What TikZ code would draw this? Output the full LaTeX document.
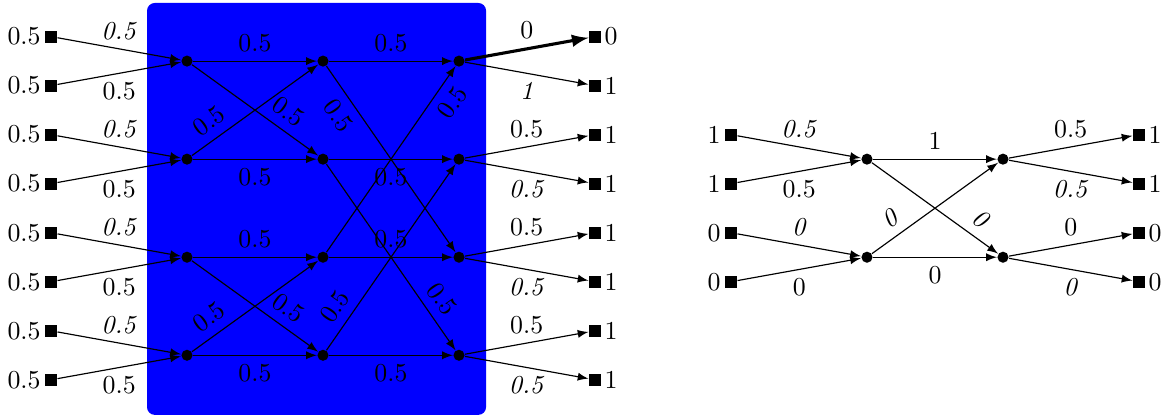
\documentclass[tikz,border=0pt]{standalone}
\usepackage{xcolor}
\usepackage{tikz}

\begin{document}
\begin{tikzpicture}[x=1.85cm,y=0.667cm,line width=0.45pt,
  term/.style={rectangle,fill,inner sep=0pt,minimum size=4.6pt},
  src/.style={term,label={[inner sep=1pt,label distance=0.3pt]left:#1}},
  dst/.style={term,label={[inner sep=1pt]right:#1}},
  junc/.style={circle,fill,inner sep=0pt,minimum size=4.3pt},
  wire/.style={-latex}]
\useasboundingbox (-0.375,0.746) rectangle (8.206,-7.817);
\fill[blue,rounded corners=3pt] (0.706,0.685) rectangle (3.199,-7.715);
  \node[src=0.5] (u1) at (0,0) {};
  \node[src=0.5] (u2) at (0,-1) {};
  \node[src=0.5] (u3) at (0,-2) {};
  \node[src=0.5] (u4) at (0,-3) {};
  \node[src=0.5] (u5) at (0,-4) {};
  \node[src=0.5] (u6) at (0,-5) {};
  \node[src=0.5] (u7) at (0,-6) {};
  \node[src=0.5] (u8) at (0,-7) {};
  \node[junc] (a1) at (1,-0.5) {};
  \node[junc] (a2) at (1,-2.5) {};
  \node[junc] (a3) at (1,-4.5) {};
  \node[junc] (a4) at (1,-6.5) {};
  \node[junc] (b1) at (2,-0.5) {};
  \node[junc] (b2) at (2,-2.5) {};
  \node[junc] (b3) at (2,-4.5) {};
  \node[junc] (b4) at (2,-6.5) {};
  \node[junc] (c1) at (3,-0.5) {};
  \node[junc] (c2) at (3,-2.5) {};
  \node[junc] (c3) at (3,-4.5) {};
  \node[junc] (c4) at (3,-6.5) {};
  \node[dst=0] (v1) at (4,0) {};
  \node[dst=1] (v2) at (4,-1) {};
  \node[dst=1] (v3) at (4,-2) {};
  \node[dst=1] (v4) at (4,-3) {};
  \node[dst=1] (v5) at (4,-4) {};
  \node[dst=1] (v6) at (4,-5) {};
  \node[dst=1] (v7) at (4,-6) {};
  \node[dst=1] (v8) at (4,-7) {};
  \draw[wire] (u1) -- node[above] {\textit{0.5}} (a1);
  \draw[wire] (u2) -- node[below] {0.5} (a1);
  \draw[wire] (u3) -- node[above] {\textit{0.5}} (a2);
  \draw[wire] (u4) -- node[below] {0.5} (a2);
  \draw[wire] (u5) -- node[above] {\textit{0.5}} (a3);
  \draw[wire] (u6) -- node[below] {0.5} (a3);
  \draw[wire] (u7) -- node[above] {\textit{0.5}} (a4);
  \draw[wire] (u8) -- node[below] {0.5} (a4);
  \draw[wire] (a1) -- node[above] {0.5} (b1);
  \draw[wire] (a1) -- node[above,sloped,pos=0.68] {0.5} (b2);
  \draw[wire] (a2) -- node[above,sloped,pos=0.22] {0.5} (b1);
  \draw[wire] (a2) -- node[below] {0.5} (b2);
  \draw[wire] (a3) -- node[above] {0.5} (b3);
  \draw[wire] (a3) -- node[above,sloped,pos=0.68] {0.5} (b4);
  \draw[wire] (a4) -- node[above,sloped,pos=0.22] {0.5} (b3);
  \draw[wire] (a4) -- node[below] {0.5} (b4);
  \draw[wire] (b1) -- node[above] {0.5} (c1);
  \draw[wire] (b1) -- node[below,sloped,pos=0.21] {0.5} (c3);
  \draw[wire] (b2) -- node[below] {0.5} (c2);
  \draw[wire] (b2) -- node[above,sloped,pos=0.78] {0.5} (c4);
  \draw[wire] (b3) -- node[below,sloped,pos=0.86] {0.5} (c1);
  \draw[wire] (b3) -- node[above] {0.5} (c3);
  \draw[wire] (b4) -- node[above,sloped,pos=0.18] {0.5} (c2);
  \draw[wire] (b4) -- node[below] {0.5} (c4);
  \draw[wire,very thick] (c1) -- node[above] {0} (v1);
  \draw[wire] (c1) -- node[below] {\textit{1}} (v2);
  \draw[wire] (c2) -- node[above] {0.5} (v3);
  \draw[wire] (c2) -- node[below] {\textit{0.5}} (v4);
  \draw[wire] (c3) -- node[above] {0.5} (v5);
  \draw[wire] (c3) -- node[below] {\textit{0.5}} (v6);
  \draw[wire] (c4) -- node[above] {0.5} (v7);
  \draw[wire] (c4) -- node[below] {\textit{0.5}} (v8);
  \node[src=1] (p1) at (5,-2) {};
  \node[src=1] (p2) at (5,-3) {};
  \node[src=0] (p3) at (5,-4) {};
  \node[src=0] (p4) at (5,-5) {};
  \node[junc] (q1) at (6,-2.5) {};
  \node[junc] (q2) at (6,-4.5) {};
  \node[junc] (r1) at (7,-2.5) {};
  \node[junc] (r2) at (7,-4.5) {};
  \node[dst=1] (s1) at (8,-2) {};
  \node[dst=1] (s2) at (8,-3) {};
  \node[dst=0] (s3) at (8,-4) {};
  \node[dst=0] (s4) at (8,-5) {};
  \draw[wire] (p1) -- node[above] {\textit{0.5}} (q1);
  \draw[wire] (p2) -- node[below] {0.5} (q1);
  \draw[wire] (p3) -- node[above] {\textit{0}} (q2);
  \draw[wire] (p4) -- node[below] {0} (q2);
  \draw[wire] (q1) -- node[above] {1} (r1);
  \draw[wire] (q1) -- node[above,sloped,pos=0.78] {\textit{0}} (r2);
  \draw[wire] (q2) -- node[above,sloped,pos=0.23] {\textit{0}} (r1);
  \draw[wire] (q2) -- node[below] {0} (r2);
  \draw[wire] (r1) -- node[above] {0.5} (s1);
  \draw[wire] (r1) -- node[below] {\textit{0.5}} (s2);
  \draw[wire] (r2) -- node[above] {0} (s3);
  \draw[wire] (r2) -- node[below] {\textit{0}} (s4);
\end{tikzpicture}
\end{document}
